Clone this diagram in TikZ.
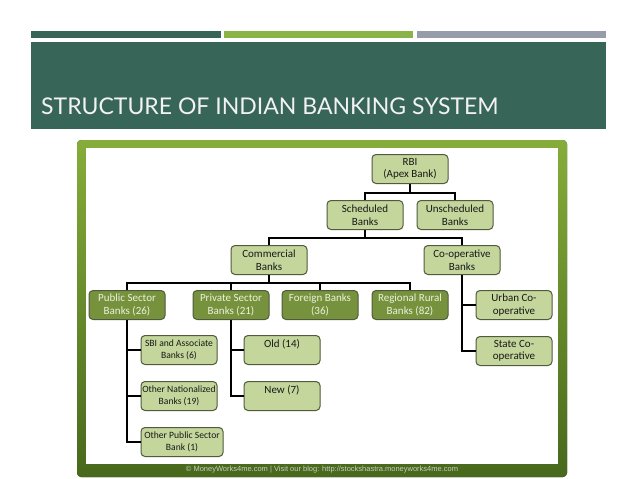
\documentclass[tikz,border=0pt]{standalone}
\usepackage{fontspec}
\setmainfont{Carlito}
\newfontfamily\titlefont{Lato}
\newfontfamily\footfont{Liberation Sans}
\usepackage{tikz}
\usetikzlibrary{positioning,calc}

\definecolor{panelteal}{RGB}{55,101,87}
\definecolor{barlime}{RGB}{138,180,72}
\definecolor{bargray}{RGB}{150,157,168}
\definecolor{frametop}{RGB}{134,173,58}
\definecolor{framebot}{RGB}{72,104,28}
\definecolor{lightfill}{RGB}{196,214,155}
\definecolor{darkfill}{RGB}{118,146,60}
\definecolor{boxline}{RGB}{80,90,60}
\definecolor{darktext}{RGB}{235,241,222}
\definecolor{footgray}{RGB}{200,205,195}

\begin{document}
\begin{tikzpicture}[
  x=1pt, y=-1pt,
  every node/.style={font=\fontsize{11}{12.5}\selectfont},
  boxlight/.style={draw=boxline, fill=lightfill, line width=1pt, rounded corners=4pt,
    minimum width=76pt, minimum height=29pt, inner sep=1pt, align=center, text=black!90},
  boxdark/.style={boxlight, fill=darkfill, text=darktext},
  small/.style={font=\fontsize{9.6}{12}\selectfont},
  link/.style={line width=2pt, black}, % elbow connectors
  ]

\useasboundingbox (0,0) rectangle (638,479);
\fill[white] (0,0) rectangle (638,479);

% Slide header
\fill[panelteal] (31,31) rectangle (221,38);
\fill[barlime] (224,31) rectangle (413,38);
\fill[bargray] (417,31) rectangle (606,38);
\fill[panelteal] (31,42) rectangle (606,129);
\node[anchor=base west, inner sep=0, text=white!95!black,
  font=\titlefont\fontsize{23}{27}\selectfont] (title) at (41,114) {STRUCTURE OF INDIAN BANKING SYSTEM};

% Picture frame
\fill[top color=frametop, bottom color=framebot, rounded corners=4pt] (77,140) rectangle (567,477);
\fill[white] (86,148) rectangle (558,464);
\node[text=footgray, font=\footfont\fontsize{7.5}{9}\selectfont] (credit) at (322,470)
  {© MoneyWorks4me.com | Visit our blog: http://stockshastra.moneyworks4me.com};

% Top levels
\node[boxlight] (rbi) at (410,169) {RBI\\(Apex Bank)};
\node[boxlight] (sched) at (365,215) {Scheduled\\Banks};
\node[boxlight] (unsched) at (455,215) {Unscheduled\\Banks};
\node[boxlight] (comm) at (269,260) {Commercial\\Banks};
\node[boxlight] (coop) at (462,260) {Co-operative\\Banks};

% Commercial bank groups
\node[boxdark] (public) at (127,305) {Public Sector\\Banks (26)};
\node[boxdark] (private) at (231,305) {Private Sector\\Banks (21)};
\node[boxdark] (foreign) at (320,305) {Foreign Banks\\(36)};
\node[boxdark] (rrb) at (410,305) {Regional Rural\\Banks (82)};

% Co-operative banks
\node[boxlight] (urban) at (514,305) {Urban Co-\\operative};
\node[boxlight] (state) [below=16pt of urban] {State Co-\\operative};

% Public sector banks
\node[boxlight, small] (sbi) at (179,350) {SBI and Associate\\Banks (6)};
\node[boxlight, small] (othnat) [below=16pt of sbi] {Other Nationalized\\Banks (19)};
\node[boxlight, small, minimum width=82pt] (othpub) at (182,442) {Other Public Sector\\Bank (1)};

% Private sector banks
\node[boxlight] (old) at (282,350) {Old (14)\\~};
\node[boxlight] (new) [below=16pt of old] {New (7)\\~};

% Connectors
\draw[link] (rbi.south) -- ++(0,9) -| (sched.north);
\draw[link] (rbi.south) -- ++(0,9) -| (unsched.north);
\draw[link] (sched.south) -- ++(0,8) -| (comm.north);
\draw[link] (sched.south) -- ++(0,8) -| (coop.north);
\foreach \n in {public,private,foreign,rrb}
  \draw[link] (comm.south) -- ++(0,8) -| (\n.north);
\foreach \n in {sbi,othnat,othpub}
  \draw[link] (public.south) |- (\n.west);
\foreach \n in {old,new}
  \draw[link] (private.south) |- (\n.west);
\foreach \n in {urban,state}
  \draw[link] (coop.south) |- (\n.west);

\end{tikzpicture}
\end{document}
